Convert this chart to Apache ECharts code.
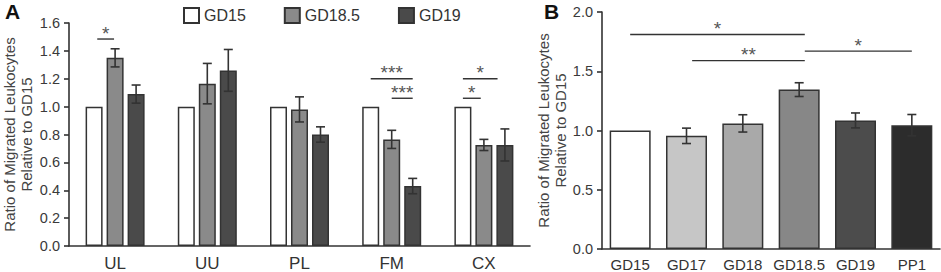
<!DOCTYPE html>
<html>
<head>
<meta charset="utf-8">
<script src="https://cdn.jsdelivr.net/npm/echarts@6/dist/echarts.min.js"></script>
<style>
  html, body { margin: 0; padding: 0; background: #fff; }
  #chart { width: 941px; height: 272px; }
</style>
</head>
<body>
<div id="chart"></div>
<script>
// panel A: ratio per tissue, three gestational days
var catsA = ['UL', 'UU', 'PL', 'FM', 'CX'];
var gd15A = [1, 1, 1, 1, 1];
var gd185A = [1.35, 1.165, 0.98, 0.765, 0.725];
var gd185ErrA = [0.065, 0.145, 0.09, 0.065, 0.04];
var gd19A = [1.09, 1.26, 0.80, 0.43, 0.725];
var gd19ErrA = [0.065, 0.15, 0.055, 0.055, 0.115];
var yTicksA = [0, 0.2, 0.4, 0.6, 0.8, 1.0, 1.2, 1.4, 1.6];
// significance brackets A: [category, from slot, to slot, level]
var sigA = [[0, -0.85, -0.05, 1.485], [3, -1, 1, 1.20], [3, 0, 1, 1.06], [4, -1, 0.65, 1.20], [4, -1, -0.15, 1.06]];
var sigTextA = ['*', '***', '***', '*', '*'];

// panel B: ratio per time point
var catsB = ['GD15', 'GD17', 'GD18', 'GD18.5', 'GD19', 'PP1'];
var valsB = [1.0, 0.955, 1.06, 1.345, 1.085, 1.045];
var errB = [0, 0.065, 0.073, 0.058, 0.063, 0.09];
var yTicksB = [0, 0.5, 1.0, 1.5, 2.0];
// brackets B: [from category, to category, level]
var sigB = [[0, 3.1, 1.81], [1.1, 3.1, 1.59], [3.1, 5, 1.67]];
var sigTextB = ['*', '**', '*'];

var colorsA = ['#ffffff', '#8a8a8a', '#4a4a4a'];
var colorsB = ['#ffffff', '#c6c6c6', '#a9a9a9', '#878787', '#4c4c4c', '#2c2c2c'];
var ink = '#333333';
var font = 'Liberation Sans, Arial, Helvetica, sans-serif';
var BAR_A = 17, GAP_A = 4;   // bar width / gap in panel A
var STEP_A = BAR_A + GAP_A;

var chart = echarts.init(document.getElementById('chart'), null, {renderer: 'svg'});

function errItem(step) {
  return function (params, api) {
    var c = api.value(0), slot = api.value(1), v = api.value(2), e = api.value(3);
    if (!e) return null;
    var x = api.coord([c, v])[0] + slot * step;
    var hi = api.coord([c, v + e])[1];
    var lo = api.coord([c, v - e])[1];
    var st = {stroke: ink, lineWidth: 1.6};
    return {type: 'group', children: [
      {type: 'line', shape: {x1: x, y1: hi, x2: x, y2: lo}, style: st},
      {type: 'line', shape: {x1: x - 4.5, y1: hi, x2: x + 4.5, y2: hi}, style: st},
      {type: 'line', shape: {x1: x - 4.5, y1: lo, x2: x + 4.5, y2: lo}, style: st}
    ]};
  };
}

function bracket(x1, x2, y, txt) {
  return {type: 'group', children: [
    {type: 'line', shape: {x1: x1, y1: y, x2: x2, y2: y}, style: {stroke: ink, lineWidth: 1.4}},
    {type: 'text', x: (x1 + x2) / 2, y: y - 6, style: {text: txt, fill: '#555', font: '19px ' + font, align: 'center', verticalAlign: 'middle'}}
  ]};
}

var errDataA = [];
for (var i = 0; i < catsA.length; i++) {
  errDataA.push([i, 0, gd185A[i], gd185ErrA[i]]);
  errDataA.push([i, 1, gd19A[i], gd19ErrA[i]]);
}
var errDataB = [];
for (var j = 0; j < catsB.length; j++) errDataB.push([j, 0, valsB[j], errB[j]]);

function yAxisCfg(grid, ticks, nameGap) {
  return {
    type: 'value', gridIndex: grid, min: ticks[0], max: ticks[ticks.length - 1],
    interval: ticks[1] - ticks[0],
    name: 'Ratio of Migrated Leukocytes\nRelative to GD15',
    nameLocation: 'middle', nameGap: nameGap,
    nameTextStyle: {fontSize: 15, color: '#444', fontFamily: font, lineHeight: 17},
    axisLine: {show: true, lineStyle: {color: ink, width: 1.6}},
    axisTick: {show: true, length: 5, lineStyle: {color: ink, width: 1.6}},
    axisLabel: {fontSize: 14.5, color: '#3a3a3a', fontFamily: font, margin: 9,
      formatter: function (v) { return v.toFixed(1); }},
    splitLine: {show: false}
  };
}

var option = {
  animation: false,
  textStyle: {fontFamily: font},
  grid: [
    {left: 67, right: 411, top: 23, bottom: 23},
    {left: 602, right: 1, top: 12, bottom: 23}
  ],
  legend: {
    data: ['GD15', 'GD18.5', 'GD19'], left: 178, top: 2, icon: 'rect',
    itemWidth: 15, itemHeight: 15, itemGap: 38,
    textStyle: {fontSize: 16, color: '#333', fontFamily: font}
  },
  xAxis: [
    {type: 'category', gridIndex: 0, data: catsA,
      axisLine: {lineStyle: {color: ink, width: 1.6}}, axisTick: {show: false},
      axisLabel: {fontSize: 17, color: '#333', fontFamily: font, margin: 9}},
    {type: 'category', gridIndex: 1, data: catsB,
      axisLine: {lineStyle: {color: ink, width: 1.6}}, axisTick: {show: false},
      axisLabel: {fontSize: 15, color: '#333', fontFamily: font, margin: 8, interval: 0}}
  ],
  yAxis: [yAxisCfg(0, yTicksA, 34), yAxisCfg(1, yTicksB, 33)],
  graphic: [
    {type: 'text', left: 5, top: 1, style: {text: 'A', font: 'bold 21px ' + font, fill: '#111'}},
    {type: 'text', left: 544, top: 1, style: {text: 'B', font: 'bold 21px ' + font, fill: '#111'}}
  ],
  series: [
    {name: 'GD15', type: 'bar', xAxisIndex: 0, yAxisIndex: 0, data: gd15A, barWidth: BAR_A,
      barGap: (GAP_A / BAR_A * 100) + '%',
      itemStyle: {color: colorsA[0], borderColor: ink, borderWidth: 1.5}},
    {name: 'GD18.5', type: 'bar', xAxisIndex: 0, yAxisIndex: 0, data: gd185A, barWidth: BAR_A,
      itemStyle: {color: colorsA[1], borderColor: ink, borderWidth: 1.5}},
    {name: 'GD19', type: 'bar', xAxisIndex: 0, yAxisIndex: 0, data: gd19A, barWidth: BAR_A,
      itemStyle: {color: colorsA[2], borderColor: ink, borderWidth: 1.5}},
    {type: 'custom', xAxisIndex: 0, yAxisIndex: 0, data: errDataA, encode: {x: 0, y: 2},
      renderItem: errItem(STEP_A), z: 5},
    {type: 'custom', xAxisIndex: 0, yAxisIndex: 0, data: sigA, encode: {x: 0, y: 3}, z: 5,
      renderItem: function (params, api) {
        var c = api.value(0);
        var cx = api.coord([c, 0])[0];
        var y = api.coord([c, api.value(3)])[1];
        return bracket(cx + api.value(1) * STEP_A, cx + api.value(2) * STEP_A, y, sigTextA[params.dataIndex]);
      }},
    {name: 'B', type: 'bar', xAxisIndex: 1, yAxisIndex: 1, barWidth: 41,
      data: valsB.map(function (v, k) { return {value: v, itemStyle: {color: colorsB[k]}}; }),
      itemStyle: {borderColor: ink, borderWidth: 1.5}},
    {type: 'custom', xAxisIndex: 1, yAxisIndex: 1, data: errDataB, encode: {x: 0, y: 2},
      renderItem: errItem(0), z: 5},
    {type: 'custom', xAxisIndex: 1, yAxisIndex: 1, data: sigB, encode: {x: 0, y: 2}, z: 5,
      renderItem: function (params, api) {
        var band = api.size([1, 0])[0];
        function xAt(c) { var i = Math.floor(c); return api.coord([i, 0])[0] + (c - i) * band; }
        var y = api.coord([0, api.value(2)])[1];
        return bracket(xAt(api.value(0)), xAt(api.value(1)), y, sigTextB[params.dataIndex]);
      }}
  ]
};
chart.setOption(option);
</script>
</body>
</html>
